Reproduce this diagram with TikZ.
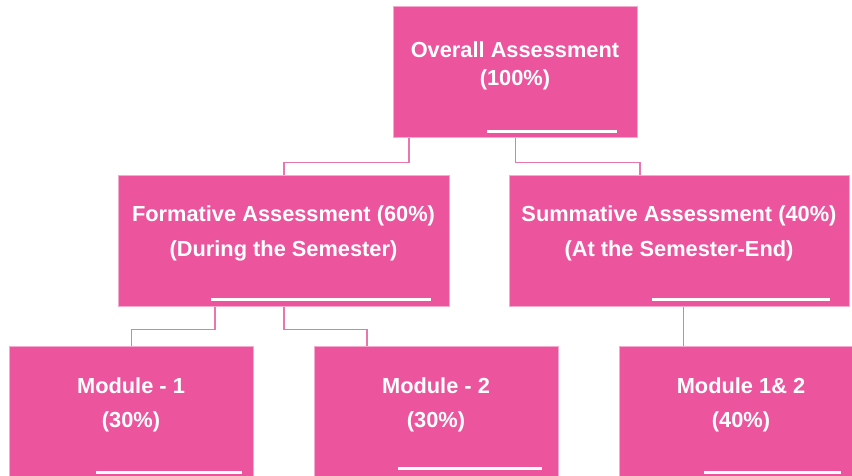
\documentclass[tikz,border=0pt]{standalone}
\usepackage{fontspec}
\setmainfont{Liberation Sans}
\definecolor{boxpink}{RGB}{236,84,157}
\definecolor{edgepink}{RGB}{246,170,205}
\definecolor{linkpink}{RGB}{234,118,174}
\begin{document}
\begin{tikzpicture}[x=1pt,y=-1pt,
  box/.style={draw=edgepink, line width=0.8pt, fill=boxpink, anchor=north west, minimum height=131pt, inner sep=0pt},
  wline/.style={draw=white, line width=3pt},
  conn/.style={draw=linkpink, line width=1.3pt},
  txt/.style={text=white, anchor=base, inner sep=0pt, font=\fontsize{21.8}{26}\selectfont\bfseries}]
\clip (0,0) rectangle (852,476);
\fill[white] (0,0) rectangle (852,476);
% boxes
\node[box, minimum width=244pt] (top) at (393,6) {};
\node[box, minimum width=331pt] (fl) at (118,175) {};
\node[box, minimum width=340pt] (fr) at (509,175) {};
\node[box, minimum width=244pt] (m1) at (9,346) {};
\node[box, minimum width=244pt] (m2) at (314,346) {};
\node[box, minimum width=244pt] (m3) at (619,346) {};
% white bars
\draw[wline] ([shift={(94,-6)}]top.south west) -- ([shift={(-21,-6)}]top.south east);
\draw[wline] ([shift={(93,-7)}]fl.south west) -- ([shift={(-19,-7)}]fl.south east);
\draw[wline] ([shift={(143,-7)}]fr.south west) -- ([shift={(-20,-7)}]fr.south east);
\draw[wline] ([shift={(87,-5)}]m1.south west) -- ([shift={(-12,-5)}]m1.south east);
\draw[wline] ([shift={(84,-9)}]m2.south west) -- ([shift={(-17,-9)}]m2.south east);
\draw[wline] ([shift={(85,-5)}]m3.south west) -- ([shift={(-23,-5)}]m3.south east);
% texts
\node[txt] (t1a) at (515,58) {Overall Assessment};
\node[txt] (t1b) at (515,86) {(100\%)};
\node[txt] (t2a) at (283.5,222) {Formative Assessment (60\%)};
\node[txt] (t2b) at (283.5,256) {(During the Semester)};
\node[txt] (t3a) at (679,222) {Summative Assessment (40\%)};
\node[txt] (t3b) at (679,256) {(At the Semester-End)};
\node[txt] (t4a) at (131,393) {Module - 1};
\node[txt] (t4b) at (131,427) {(30\%)};
\node[txt] (t5a) at (436,393) {Module - 2};
\node[txt] (t5b) at (436,427) {(30\%)};
\node[txt] (t6a) at (741,393) {Module 1\& 2};
\node[txt] (t6b) at (741,427) {(40\%)};
% connectors
\draw[conn] ([xshift=16pt]top.south west) -- ++(0,25) -| (fl.north);
\draw[conn] (top.south) -- ++(0,25) -| ([xshift=131pt]fr.north west);
\draw[conn] ([xshift=97pt]fl.south west) -- ++(0,23) -| (m1.north);
\draw[conn] (fl.south) -- ++(0,23) -| ([xshift=53pt]m2.north west);
\draw[conn] ([xshift=4pt]fr.south) -- ([xshift=4pt]fr.south |- m3.north);
\end{tikzpicture}
\end{document}
